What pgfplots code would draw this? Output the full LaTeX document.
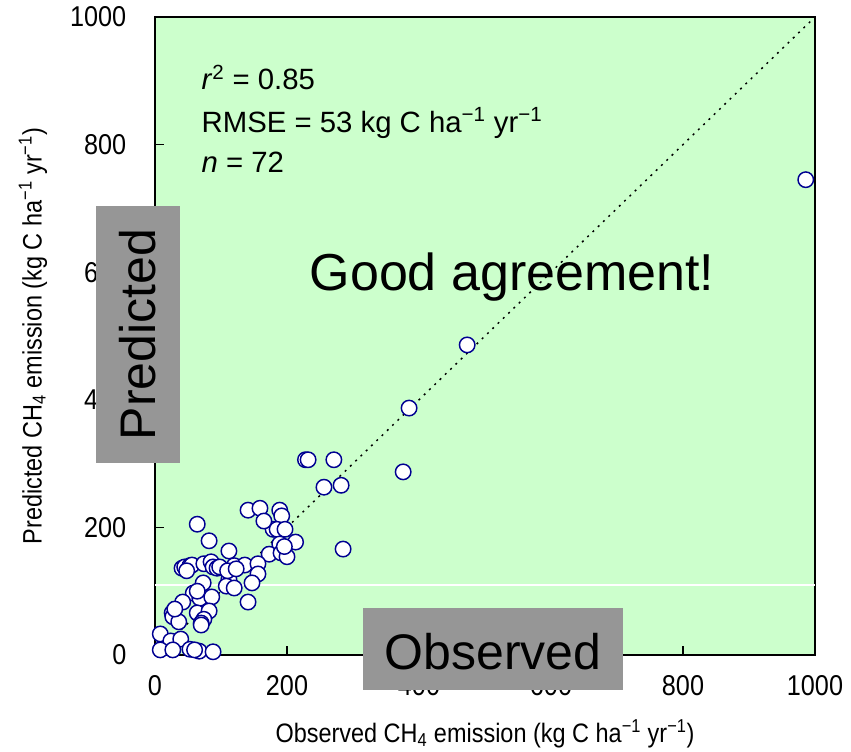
\documentclass[border=0pt]{standalone}
\usepackage{fontspec}
\setmainfont{Liberation Sans}
\newfontfamily\condfont{Liberation Sans}[FakeStretch=0.88]
\usepackage{pgfplots}
\pgfplotsset{compat=1.18}
\definecolor{bggreen}{RGB}{204,255,204}
\definecolor{ptblue}{RGB}{0,0,145}
\definecolor{boxgray}{RGB}{150,150,150}
\begin{document}
\begin{tikzpicture}
\useasboundingbox (-116.25pt,-72.75pt) rectangle (522pt,491.25pt);
\begin{axis}[
  at={(0,0)}, anchor=south west,
  scale only axis, width=495pt, height=478.5pt,
  xmin=0, xmax=1000, ymin=0, ymax=1000,
  xtick={0,200,...,1000}, ytick={0,200,...,1000},
  tick pos=left, tick align=inside, major tick length=6.75pt,
  axis line style={line width=1.1pt},
  every tick/.style={black, line width=0.9pt},
  axis background/.style={fill=bggreen},
  /pgf/number format/assume math mode=true,
  /pgf/number format/1000 sep={},
  tick label style={font=\condfont\fontsize{21.5}{24}\selectfont},
  xticklabel style={yshift=-12pt},
  yticklabel style={xshift=-18pt},
  label style={font=\condfont\fontsize{20}{22}\selectfont},
  xlabel={Observed CH\textsubscript{4} emission (kg C ha\textsuperscript{−1} yr\textsuperscript{−1})},
  ylabel={Predicted CH\textsubscript{4} emission (kg C ha\textsuperscript{−1} yr\textsuperscript{−1})},
  xlabel style={at={(axis description cs:0.5,-0.124)}, anchor=center},
  ylabel style={at={(axis description cs:-0.185,0.5)}, anchor=center},
  clip=false,
]
\draw[white, line width=1.2pt] (axis cs:0,110) -- (axis cs:1000,110);
\addplot[black, line width=1.1pt, dash pattern=on 1.5pt off 4pt] coordinates {(0,0) (1000,1000)};
\addplot[only marks, mark=*, mark size=5.8pt, mark options={draw=ptblue, fill=white, line width=1.1pt}] table {
x y
986 745
473 486
385 387
376 287
228 306
232 306
271 306
256 263
282 266
285 166
141 227
159 230
189 227
192 218
64 205
179 197
185 197
197 197
82 179
112 163
213 177
189 174
173 158
191 160
200 154
41 136
45 138
53 140
56 141
74 143
85 146
88 138
94 136
98 138
120 140
136 141
156 143
156 127
112 119
73 113
108 108
120 105
147 113
141 83
58 97
42 83
68 89
86 91
64 66
82 69
74 56
70 50
26 66
27 60
36 52
8 33
24 22
39 25
8 8
27 8
53 9
67 6
88 5
70 47
30 72
64 100
110 132
48 132
196 170
165 210
123 135
60 8
};
\node[anchor=base west, font=\fontsize{22}{26}\selectfont] at (axis cs:63.6,885.6) {\textit{r}\textsuperscript{2} = 0.85};
\node[anchor=base west, font=\fontsize{22}{26}\selectfont] at (axis cs:63.6,819.7) {RMSE = 53 kg C ha\textsuperscript{−1} yr\textsuperscript{−1}};
\node[anchor=base west, font=\fontsize{22}{26}\selectfont] at (axis cs:63.6,755.5) {\textit{n} = 72};
\node[anchor=base, font=\fontsize{39}{44}\selectfont] at (axis cs:541,572) {Good agreement!};
\coordinate (pa) at (axis cs:-89.4,300.9);
\coordinate (pb) at (axis cs:37.9,703.8);
\coordinate (pc) at (axis cs:-25.8,502.4);
\coordinate (oa) at (axis cs:315,-54.9);
\coordinate (ob) at (axis cs:709,73.7);
\coordinate (oc) at (axis cs:512,4.7);
\end{axis}
\fill[boxgray] (pa) rectangle (pb);
\node[rotate=90, font=\fontsize{37.5}{42}\selectfont, inner sep=0pt] at (pc) {Predicted};
\fill[boxgray] (oa) rectangle (ob);
\node[font=\fontsize{37.5}{42}\selectfont, inner sep=0pt] at (oc) {Observed};
\end{tikzpicture}
\end{document}
